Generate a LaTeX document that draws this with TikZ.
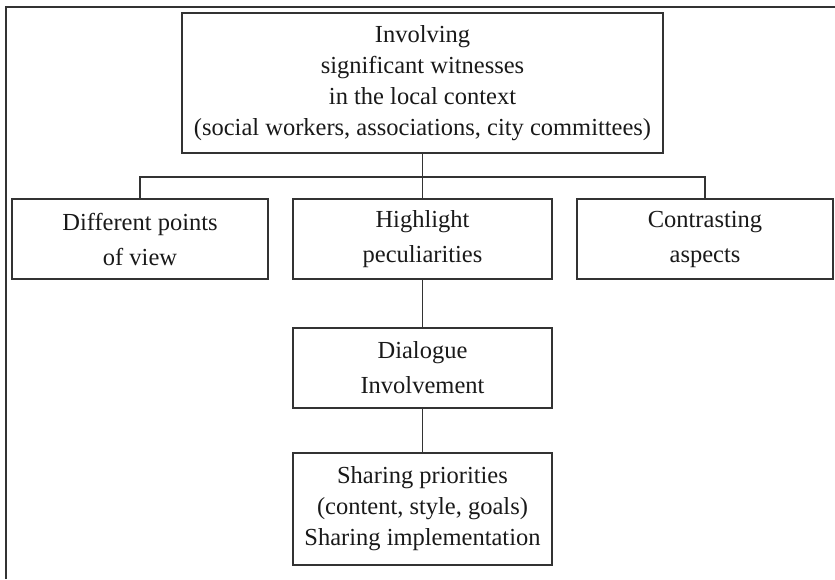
\documentclass[tikz,border=0pt]{standalone}
\usepackage{fontspec}
\setmainfont{Liberation Serif}
\begin{document}
\begin{tikzpicture}[x=1pt,y=-1pt,
  line width=1.3pt, draw=black!80,
  box/.style={draw=black!80, line width=1.3pt, rectangle, align=center,
    inner sep=0pt, text=black!90, font=\fontsize{24.5}{31}\selectfont},
  wide/.style={box, font=\fontsize{24.5}{35}\selectfont},
  link/.style={draw=black!80, line width=1.3pt}]
\useasboundingbox (0,0) rectangle (835,579);
% outer frame (left and top edges)
\draw[link] (6,579) -- (6,7) -- (835,7);

\node[box, minimum width=481pt, minimum height=140pt] (top) at (422.5,83)
  {Involving\\significant witnesses\\in the local context\\(social workers, associations, city committees)};
\node[wide, minimum width=256pt, minimum height=80pt] (left) at (140,239)
  {Different points\\of view};
\node[wide, minimum width=259pt, minimum height=80pt] (mid) at (422.5,239)
  {Highlight\\peculiarities};
\node[wide, minimum width=256pt, minimum height=80pt] (right) at (705,239)
  {Contrasting\\aspects};
\node[wide, minimum width=259pt, minimum height=80pt] (dia) at (422.5,368)
  {Dialogue\\Involvement};
\node[box, minimum width=259pt, minimum height=112pt] (share) at (422.5,509)
  {Sharing priorities\\(content, style, goals)\\Sharing implementation};

\coordinate (bus) at (422.5,177);
\draw[link] (top.south) -- (mid.north);
\draw[link] (left.north) |- (bus) -| (right.north);
\draw[link] (mid.south) -- (dia.north);
\draw[link] (dia.south) -- (share.north);
\end{tikzpicture}
\end{document}
